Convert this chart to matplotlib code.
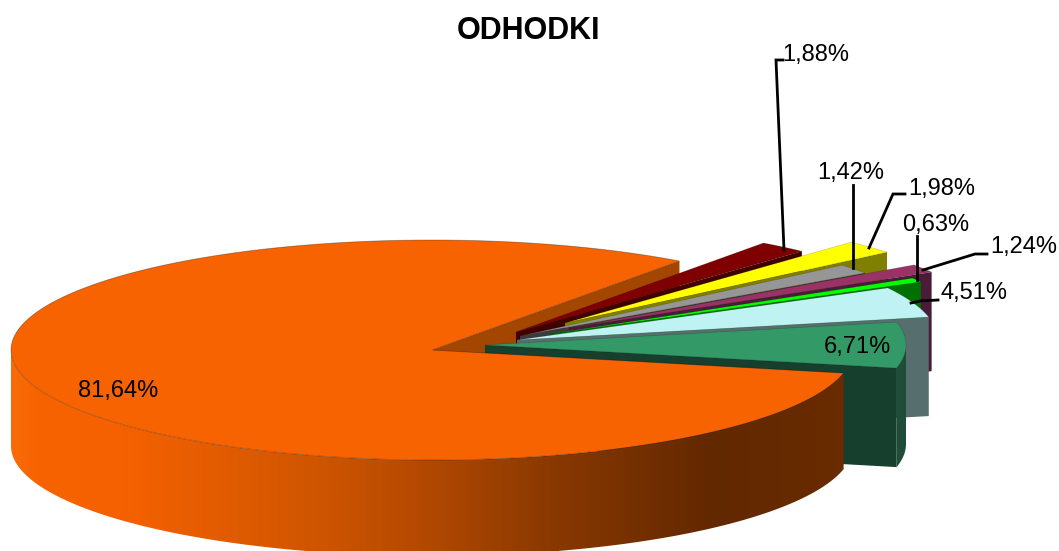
import numpy as np
import matplotlib
matplotlib.use("Agg")
import matplotlib.pyplot as plt
from matplotlib.colors import LinearSegmentedColormap
from matplotlib.patches import Polygon

plt.rcParams["font.family"] = ["Liberation Sans", "DejaVu Sans"]

# data, counter-clockwise from the big slice
labels = ["81,64%", "6,71%", "4,51%", "0,63%", "1,24%", "1,42%", "1,98%", "1,88%"]
values = [81.64, 6.71, 4.51, 0.63, 1.24, 1.42, 1.98, 1.88]

top_colors = ["#F76300", "#339966", "#BFF3F3", "#00FF00", "#993366", "#969696", "#FFFF00", "#7F0000"]
wall_colors = ["#A34700", "#163F2D", "#566E6E", "#007000", "#4A1C38", "#3C3C3C", "#7F7F00", "#400000"]
rim_colors = ["#F76300", "#1F4D3A", "#566E6E", "#007000", "#4A1C38", "#3C3C3C", "#7F7F00", "#400000"]
# apex of each exploded slice, in pixels
apex_x = [432, 485, 517, 550, 569, 520, 565, 516]
apex_y = [350, 345, 340, 334, 328, 336, 323, 332]

START = 54.0
RX, RY = 421, 110
DEPTH = 96
SMALL_DEPTH = 99

text_x = [118, 857, 974, 936, 1024, 851, 942, 816]
text_y = [391.5, 347.5, 293.5, 225.5, 247.5, 172.5, 189.5, 54.5]
leader_x = [None, None, [938, 920, 911], [916.6, 916.6], [987, 975, 923], [853, 853], [905, 893, 869], [783, 776, 784]]
leader_y = [None, None, [300, 301, 303], [236, 280], [254, 254, 270], [185, 268], [194, 194, 248], [60, 60, 250]]

shares = np.array(values) / sum(values) * 360
t_from = START + np.concatenate([[0], np.cumsum(shares)[:-1]])
t_to = t_from + shares


def rim(x0, y0, a, b):
    t = np.radians(np.linspace(a, b, 200))
    return np.column_stack([x0 + RX * np.cos(t), y0 - RY * np.sin(t)])


def cut_wall(x0, y0, t, depth, color, z):
    r = rim(x0, y0, t, t)[0]
    pts = [(x0, y0), r, (r[0], r[1] + depth), (x0, y0 + depth)]
    ax.add_patch(Polygon(pts, closed=True, fc=color, ec="none", zorder=z))


fig = plt.figure(figsize=(10.59, 5.51), dpi=100)
ax = fig.add_axes([0, 0, 1, 1])
ax.set_xlim(0, 1059)
ax.set_ylim(551, 0)
ax.axis("off")

# back wall of the big slice sits behind everything else
cut_wall(apex_x[0], apex_y[0], START, DEPTH, wall_colors[0], 1)

# small slices, back to front
draw_order = [7, 6, 5, 4, 3, 2, 1]
for n, i in enumerate(draw_order):
    x0, y0 = apex_x[i], apex_y[i]
    z = 2 + n
    # outer side: only the stretch of rim that faces the viewer
    lo = t_from[i] - 360 if t_from[i] > 180 else t_from[i]
    hi = t_to[i] - 360 if t_from[i] > 180 else t_to[i]
    if lo < 0:
        part = rim(x0, y0, lo, min(hi, 0))
        ax.add_patch(Polygon(np.vstack([part, (part + [0, SMALL_DEPTH])[::-1]]), closed=True,
                             fc=rim_colors[i], ec="none", zorder=z))
    cut_wall(x0, y0, t_from[i], SMALL_DEPTH, wall_colors[i], z + 0.2)
    edge = rim(x0, y0, t_from[i], t_to[i])
    ax.add_patch(Polygon(np.vstack([[x0, y0], edge]), closed=True, fc=top_colors[i],
                         ec="#00000030", lw=0.5, zorder=z + 0.5))

# big slice: shaded side, then top
x0, y0 = apex_x[0], apex_y[0]
front = rim(x0, y0, 180, t_to[0])
side = Polygon(np.vstack([front, (front + [0, DEPTH])[::-1]]), closed=True, fc="none", ec="none", zorder=20)
ax.add_patch(side)
shade = LinearSegmentedColormap.from_list("shade", [
    (0.0, "#F86C08"), (0.03, "#F76300"), (0.13, "#F56100"), (0.27, "#DF5B00"), (0.38, "#CC5400"),
    (0.51, "#AE4700"), (0.64, "#8A3900"), (0.835, "#622800"), (1.0, "#6A2C00")])
img = ax.imshow(np.linspace(0, 1, 512)[None, :], cmap=shade, extent=[11, 853, 551, 240],
                aspect="auto", zorder=20)
img.set_clip_path(side)
ax.set_xlim(0, 1059)
ax.set_ylim(551, 0)
top = rim(x0, y0, t_from[0], t_to[0])
ax.add_patch(Polygon(np.vstack([[x0, y0], top]), closed=True, fc=top_colors[0],
                     ec="#00000050", lw=0.6, zorder=21))

# leaders and labels
for i, lab in enumerate(labels):
    if leader_x[i]:
        ax.plot(leader_x[i], leader_y[i], color="black", lw=2, solid_joinstyle="miter", zorder=30)
    ax.text(text_x[i], text_y[i], lab, fontsize=17, ha="center", va="center", color="black", zorder=31)

ax.text(528.5, 31, "ODHODKI", fontsize=22, fontweight="bold", ha="center", va="center", zorder=31)

fig.savefig("out.png", dpi=100)
